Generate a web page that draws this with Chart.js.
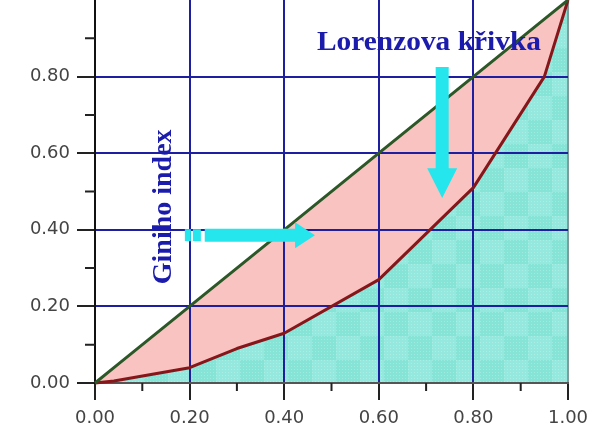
<!DOCTYPE html>
<html>
<head>
<meta charset="utf-8">
<script src="https://cdn.jsdelivr.net/npm/chart.js@4.4.1/dist/chart.umd.min.js"></script>
<style>
  html, body { margin: 0; padding: 0; background: #fff; }
  #wrap { width: 608px; height: 441px; }
</style>
</head>
<body>
<div id="wrap"><canvas id="lorenzChart" width="608" height="441"></canvas></div>
<script>
// Data
const shares = [0, 0.04, 0.2, 0.3, 0.4, 0.6, 0.8, 0.95, 1]
const lorenzValues = [0, 0.005, 0.04, 0.09, 0.13, 0.27, 0.51, 0.8, 1]
const equalityValues = [0, 0.04, 0.2, 0.3, 0.4, 0.6, 0.8, 0.95, 1]
const minorTicks = [0.1, 0.3, 0.5, 0.7, 0.9]
const lorenzLabel = "Lorenzova křivka"
const giniLabel = "Giniho index"

// Colours
const gridBlue = "#1e1ea0"
const cyan = "#24e6ec"
const navy = "#1c1cac"
const pink = "#f9c3c1"

// Teal checker pattern under the Lorenz curve
function makeTealPattern() {
  const c = document.createElement("canvas")
  c.width = 48
  c.height = 48
  const g = c.getContext("2d")
  g.fillStyle = "#86e4d6"
  g.fillRect(0, 0, 48, 48)
  g.fillStyle = "#95e8dd"
  g.fillRect(0, 0, 24, 24)
  g.fillRect(24, 24, 24, 24)
  g.fillStyle = "rgba(255,255,255,0.22)"
  for (let i = 0; i < 48; i += 3) {
    for (let j = 0; j < 48; j += 3) g.fillRect(i, j, 1, 1)
  }
  return g.createPattern(c, "repeat")
}

const isOne = (v) => Math.abs(v - 1) < 1e-6
const isZero = (v) => Math.abs(v) < 1e-6

// Arrows, labels, minor ticks and curve lines drawn on top
const overlayPlugin = {
  id: "overlay",
  afterDraw(chart) {
    const { ctx } = chart
    const x = chart.scales.x
    const y = chart.scales.y
    ctx.save()

    // minor ticks
    ctx.strokeStyle = "#222"
    ctx.lineWidth = 2
    ctx.beginPath()
    minorTicks.forEach((v) => {
      const px = x.getPixelForValue(v)
      ctx.moveTo(px, y.bottom)
      ctx.lineTo(px, y.bottom + 8)
      const py = y.getPixelForValue(v)
      ctx.moveTo(x.left - 10, py)
      ctx.lineTo(x.left, py)
    })
    ctx.stroke()

    // curve lines
    const lineColors = ["#861619", "#2c5828"]
    ;[0, 1].forEach((i) => {
      const meta = chart.getDatasetMeta(i)
      ctx.beginPath()
      meta.data.forEach((p, k) => (k ? ctx.lineTo(p.x, p.y) : ctx.moveTo(p.x, p.y)))
      ctx.strokeStyle = lineColors[i]
      ctx.lineWidth = 3
      ctx.lineJoin = "round"
      ctx.stroke()
    })

    // horizontal arrow
    ctx.fillStyle = cyan
    const hx0 = x.getPixelForValue(0.19)
    const hxs = x.getPixelForValue(0.232)
    const hxh = x.getPixelForValue(0.423)
    const hx1 = x.getPixelForValue(0.465)
    const hy = y.getPixelForValue(0.386)
    ctx.fillRect(hx0, hy - 6, 6, 12)
    ctx.fillRect(hx0 + 8, hy - 6, 8, 12)
    ctx.beginPath()
    ctx.moveTo(hxs, hy - 6.5)
    ctx.lineTo(hxh, hy - 6.5)
    ctx.lineTo(hxh, hy - 13)
    ctx.lineTo(hx1, hy)
    ctx.lineTo(hxh, hy + 13)
    ctx.lineTo(hxh, hy + 6.5)
    ctx.lineTo(hxs, hy + 6.5)
    ctx.closePath()
    ctx.fill()

    // vertical arrow
    const vx = x.getPixelForValue(0.734)
    const vy0 = y.getPixelForValue(0.825)
    const vyh = y.getPixelForValue(0.561)
    const vy1 = y.getPixelForValue(0.483)
    ctx.beginPath()
    ctx.moveTo(vx - 6.5, vy0)
    ctx.lineTo(vx + 6.5, vy0)
    ctx.lineTo(vx + 6.5, vyh)
    ctx.lineTo(vx + 15, vyh)
    ctx.lineTo(vx, vy1)
    ctx.lineTo(vx - 15, vyh)
    ctx.lineTo(vx - 6.5, vyh)
    ctx.closePath()
    ctx.fill()

    // labels
    ctx.fillStyle = navy
    ctx.font = "bold 28px 'Liberation Serif', 'DejaVu Serif', serif"
    ctx.textAlign = "center"
    ctx.textBaseline = "alphabetic"
    ctx.save()
    ctx.translate(x.getPixelForValue(0.706), y.getPixelForValue(0.869))
    ctx.scale(1.05, 1)
    ctx.fillText(lorenzLabel, 0, 0)
    ctx.restore()

    ctx.translate(x.getPixelForValue(0.146), y.getPixelForValue(0.46))
    ctx.rotate(-Math.PI / 2)
    ctx.textBaseline = "middle"
    ctx.fillText(giniLabel, 0, 0)
    ctx.restore()
  },
}

const toPoints = (xs, ys) => xs.map((v, i) => ({ x: v, y: ys[i] }))

const tickFont = { family: "'DejaVu Sans', sans-serif", size: 18 }

const chart = new Chart(document.getElementById("lorenzChart"), {
  type: "line",
  data: {
    datasets: [
      {
        label: "Lorenz",
        data: toPoints(shares, lorenzValues),
        borderWidth: 0,
        borderColor: "transparent",
        pointRadius: 0,
        backgroundColor: makeTealPattern(),
        fill: "origin",
      },
      {
        label: "Equality",
        data: toPoints(shares, equalityValues),
        borderWidth: 0,
        borderColor: "transparent",
        pointRadius: 0,
        backgroundColor: pink,
        fill: "-1",
      },
    ],
  },
  options: {
    responsive: false,
    animation: false,
    devicePixelRatio: 1,
    layout: { padding: { top: 0, right: 40, left: 0, bottom: 0 } },
    plugins: {
      legend: { display: false },
      tooltip: { enabled: false },
    },
    scales: {
      x: {
        type: "linear",
        min: 0,
        max: 1,
        ticks: {
          stepSize: 0.2,
          padding: 8,
          color: "#444",
          font: tickFont,
          maxRotation: 0,
          callback: (v) => v.toFixed(2),
        },
        grid: {
          z: 1,
          lineWidth: 2,
          tickLength: 17,
          tickColor: "#222",
          color: (c) => {
            const v = c.tick ? c.tick.value : 0
            if (isZero(v)) return "transparent"
            if (isOne(v)) return "#7f9c9c"
            return gridBlue
          },
        },
        border: { z: 1, color: "#555", width: 2 },
        afterFit: (scale) => {
          scale.height = 58
        },
      },
      y: {
        min: 0,
        max: 1,
        ticks: {
          stepSize: 0.2,
          padding: 7,
          color: "#444",
          font: tickFont,
          callback: (v) => (isOne(v) ? "" : v.toFixed(2)),
        },
        grid: {
          z: 1,
          lineWidth: 2,
          tickLength: 18,
          tickColor: (c) => (c.tick && isOne(c.tick.value) ? "transparent" : "#222"),
          color: (c) => {
            const v = c.tick ? c.tick.value : 0
            if (isZero(v) || isOne(v)) return "transparent"
            return gridBlue
          },
        },
        border: { z: 1, color: "#111", width: 2 },
        afterFit: (scale) => {
          scale.width = 95
          scale.paddingTop = 0
        },
      },
    },
  },
  plugins: [overlayPlugin],
})
</script>
</body>
</html>
